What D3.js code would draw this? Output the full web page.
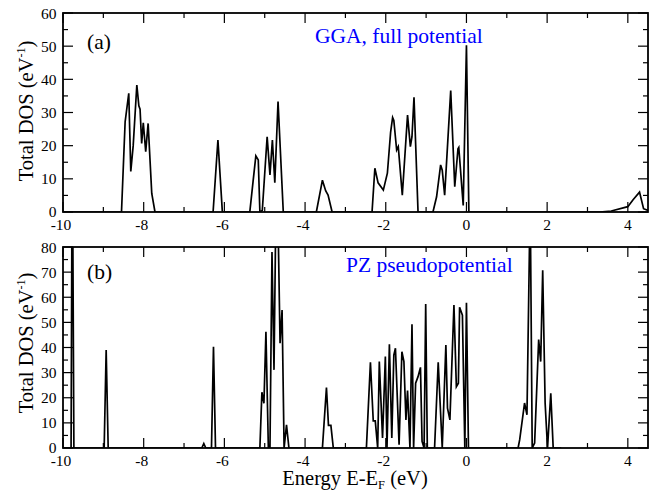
<!DOCTYPE html>
<html>
<head>
<meta charset="utf-8">
<script src="https://cdn.jsdelivr.net/npm/d3@7"></script>
<style>
  body { margin: 0; background: #fff; }
  svg text { font-family: "Liberation Serif", "DejaVu Serif", "Times New Roman", serif; }
</style>
</head>
<body>
<svg id="chart" width="652" height="491"></svg>
<script>
// ---- data ----
const xTicks = [-10, -8, -6, -4, -2, 0, 2, 4];
const yTicksA = [0, 10, 20, 30, 40, 50, 60];
const yTicksB = [0, 10, 20, 30, 40, 50, 60, 70, 80];

const ggaEnergy = [-10,-8.55,-8.46,-8.37,-8.32,-8.26,-8.17,-8.12,-8.09,-8.05,-8.01,-7.95,-7.89,-7.8,-7.72,
  -6.28,-6.16,-6.05,-5.37,-5.29,-5.22,-5.16,-5.12,-5.06,-4.94,-4.87,-4.81,-4.75,-4.67,-4.54,
  -3.72,-3.57,-3.49,-3.43,-3.33,-2.34,-2.27,-2.19,-2.06,-1.96,-1.88,-1.83,-1.80,-1.73,-1.69,-1.59,-1.46,-1.39,-1.35,-1.30,-1.20,
  -0.83,-0.74,-0.64,-0.60,-0.54,-0.39,-0.29,-0.21,-0.19,-0.08,0.0,0.06,3.3,3.59,4.0,4.13,4.29,4.39,4.5];
const ggaDos = [0,0,27.2,35.8,12.2,20,38.3,32,31,20.7,26.9,18.2,26.7,5.6,0,
  0,21.7,0,0,9.1,16.9,15.7,0,0.5,22.7,11.2,21.7,8.8,33.3,0,
  0,9.6,6.4,5.1,0,0,13.2,8.8,6.6,11.7,24,28.5,27.6,18.7,19.7,5.1,29.2,19.7,22.7,34.6,0,
  0,4.6,14.2,12.6,5.1,36.6,7.6,19.1,19.5,2,50.3,0,0,0.3,1.6,3.7,6.0,1,0.5];

const pzEnergy = [-10,-9.80,-9.77,-9.73,-8.98,-8.93,-8.88,-6.56,-6.51,-6.46,-6.32,-6.27,-6.22,
  -5.12,-5.07,-5.02,-4.97,-4.91,-4.87,-4.82,-4.77,-4.72,-4.68,-4.62,-4.57,-4.52,-4.46,-4.40,
  -3.57,-3.47,-3.42,-3.36,-3.30,-2.48,-2.38,-2.31,-2.26,-2.20,-2.16,-2.08,-2.01,-1.97,-1.91,-1.85,-1.80,-1.76,-1.67,
  -1.60,-1.55,-1.50,-1.46,-1.40,-1.35,-1.31,-1.26,-1.20,-1.14,-1.10,-1.05,-1.01,-0.97,-0.79,-0.70,-0.60,-0.51,-0.47,-0.41,
  -0.31,-0.25,-0.20,-0.17,-0.10,-0.04,0.0,0.05,1.28,1.32,1.44,1.50,1.58,1.63,1.69,1.79,1.84,1.89,1.95,2.01,2.09,2.15,2.35];
const pzDos = [0,0,130,0,0,39,0,0,1.8,0,0,40.3,0,
  0,22.2,17.8,46.3,0,0,78,31.1,100,100,41.7,54.9,0,9.2,0,
  0,24.1,9,9,0,0,34.1,10.8,10.8,0,34.4,4,36.4,0,41.3,4,37,39.7,1.3,
  38.3,34.4,11.2,22.9,0,49.2,0,25.8,28.4,32.1,2.6,0,57.3,0,0,34.1,0,41,15.9,11.2,
  56.9,24.4,25.8,56,52.9,0,57.8,0,0,3.3,17.9,13.2,100,0,2,43.2,34.4,70.7,17.9,0,21.8,0,0];

// ---- layout ----
const FONT = "Liberation Serif, DejaVu Serif, serif";
const svg = d3.select("#chart");
const L = 63, R = 648;
const panels = [
  {top: 13, bottom: 212, ymax: 60, yticks: yTicksA, e: ggaEnergy, d: ggaDos, tag: "(a)", tagY: 36, title: "GGA, full potential", titleX: 315, titleY: 30, labY: 111, id: "a"},
  {top: 247, bottom: 448, ymax: 80, yticks: yTicksB, e: pzEnergy, d: pzDos, tag: "(b)", tagY: 32, title: "PZ pseudopotential", titleX: 346, titleY: 25, labY: 343, id: "b"}
];

const x = d3.scaleLinear().domain([-10, 4.5]).range([L, R]);

panels.forEach(p => {
  const y = d3.scaleLinear().domain([0, p.ymax]).range([p.bottom, p.top]);
  const g = svg.append("g").attr("font-family", FONT);

  svg.append("clipPath").attr("id", "clip" + p.id)
    .append("rect").attr("x", L).attr("y", p.top).attr("width", R - L).attr("height", p.bottom - p.top);

  // data line
  const pts = p.e.map((v, i) => [v, p.d[i]]);
  g.append("path")
    .attr("clip-path", `url(#clip${p.id})`)
    .attr("d", d3.line().x(d => x(d[0])).y(d => y(d[1]))(pts))
    .attr("fill", "none").attr("stroke", "#000").attr("stroke-width", 1.7)
    .attr("stroke-linejoin", "miter");

  // ticks (inward)
  const xMinor = d3.range(-10, 4.51, 1);
  xMinor.forEach(v => {
    const major = Math.abs(v % 2) < 1e-9;
    const len = major ? 10 : 5;
    g.append("line").attr("x1", x(v)).attr("x2", x(v)).attr("y1", p.bottom).attr("y2", p.bottom - len).attr("stroke", "#000").attr("stroke-width", 1.2);
    g.append("line").attr("x1", x(v)).attr("x2", x(v)).attr("y1", p.top).attr("y2", p.top + len).attr("stroke", "#000").attr("stroke-width", 1.2);
  });
  const yMinor = d3.range(0, p.ymax + 0.01, 5);
  yMinor.forEach(v => {
    const major = v % 10 === 0;
    const len = major ? 10 : 5;
    g.append("line").attr("x1", L).attr("x2", L + len).attr("y1", y(v)).attr("y2", y(v)).attr("stroke", "#000").attr("stroke-width", 1.2);
    g.append("line").attr("x1", R).attr("x2", R - len).attr("y1", y(v)).attr("y2", y(v)).attr("stroke", "#000").attr("stroke-width", 1.2);
  });

  // frame
  g.append("rect").attr("x", L).attr("y", p.top).attr("width", R - L).attr("height", p.bottom - p.top)
    .attr("fill", "none").attr("stroke", "#000").attr("stroke-width", 1.8);

  // tick labels
  xTicks.forEach(v => {
    g.append("text").attr("x", x(v) - (v < 0 ? 2 : 0)).attr("y", p.bottom + 17.5).attr("text-anchor", "middle")
      .attr("font-family", FONT).attr("font-size", 15.5).text(v);
  });
  p.yticks.forEach(v => {
    g.append("text").attr("x", L - 6.5).attr("y", y(v) + (v === 0 ? 4.5 : 5.5)).attr("text-anchor", "end")
      .attr("font-family", FONT).attr("font-size", 15.5).text(v);
  });

  // y-axis title
  const t = g.append("text").attr("transform", `translate(33,${p.labY}) rotate(-90)`)
    .attr("text-anchor", "middle").attr("font-family", FONT).attr("font-size", 20.5);
  t.append("tspan").text("Total DOS (eV");
  t.append("tspan").attr("font-size", 12).attr("dy", -8).text("-1");
  t.append("tspan").attr("dy", 8).text(")");

  // panel tag and title
  g.append("text").attr("x", 87).attr("y", p.top + p.tagY).attr("font-family", FONT).attr("font-size", 21.5).text(p.tag);
  g.append("text").attr("x", p.titleX).attr("y", p.top + p.titleY).attr("font-family", FONT).attr("font-size", 21.5).attr("fill", "#0000ff").text(p.title);
});

// x-axis title
const xt = svg.append("text").attr("x", 355).attr("y", 485).attr("text-anchor", "middle")
  .attr("font-family", FONT).attr("font-size", 20.5);
xt.append("tspan").text("Energy E-E");
xt.append("tspan").attr("font-size", 12.5).attr("dy", 4).text("F");
xt.append("tspan").attr("dy", -4).text(" (eV)");
</script>
</body>
</html>
